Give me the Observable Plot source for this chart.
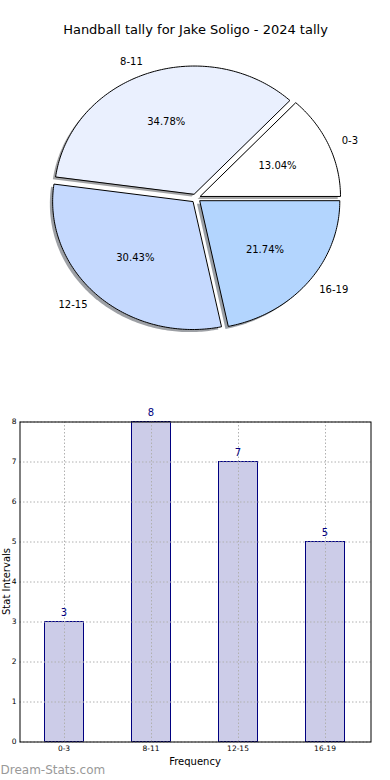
<!DOCTYPE html>
<html><head><meta charset="utf-8">
<script src="https://cdn.jsdelivr.net/npm/d3@7"></script>
<script src="https://cdn.jsdelivr.net/npm/@observablehq/plot@0.6"></script>
<style>body{margin:0;background:#fff;} #chart{width:390px;height:780px;} svg{display:block}</style>
</head><body><div id="chart"></div>
<script>
const title = "Handball tally for Jake Soligo - 2024 tally";
const categories = ["0-3","8-11","12-15","16-19"];
const counts = [3,8,7,5];
const yTicks = [0,1,2,3,4,5,6,7,8];
const xLabel = "Frequency";
const yLabel = "Stat Intervals";
const watermark = "Dream-Stats.com";

const pieColors = ["#ffffff","#eaf0fe","#c5d9fe","#b3d5fe"];
const font = "DejaVu Sans";
const explode = 0.035;
const total = d3.sum(counts);
const ends = Array.from(d3.cumsum(counts));
const slices = categories.map((c,i)=>{
  const a0 = 2*Math.PI*(ends[i]-counts[i])/total;
  const a1 = 2*Math.PI*ends[i]/total;
  const mid = (a0+a1)/2;
  const ex = explode*Math.cos(mid), ey = explode*Math.sin(mid);
  const n = Math.max(2, Math.ceil((a1-a0)/(Math.PI/180)));
  const pts = [{x:ex,y:ey}];
  for (let k=0;k<=n;k++){ const a=a0+(a1-a0)*k/n; pts.push({x:ex+Math.cos(a), y:ey+Math.sin(a)}); }
  return {cat:c, value:counts[i], color:pieColors[i], pts,
    pct:(100*counts[i]/total).toFixed(2)+"%",
    lx:ex+1.1*Math.cos(mid), ly:ey+1.1*Math.sin(mid),
    px:ex+0.6*Math.cos(mid), py:ey+0.6*Math.sin(mid)};
});
const shade = c => { const r = d3.rgb(c); return d3.rgb(r.r*0.3, r.g*0.3, r.b*0.3).formatHex(); };

const pieMarks = [];
for (const s of slices) pieMarks.push(Plot.line(s.pts, {x:d=>d.x-0.02, y:d=>d.y-0.02, fill:shade(s.color), fillOpacity:0.5, stroke:"none", curve:"linear-closed"}));
for (const s of slices) pieMarks.push(Plot.line(s.pts, {x:"x", y:"y", fill:s.color, stroke:"black", strokeWidth:1, curve:"linear-closed"}));
pieMarks.push(
  Plot.text(slices, {x:"px", y:"py", text:"pct", fontSize:10, fill:"black"}),
  Plot.text(slices.filter(s=>s.lx>0), {x:"lx", y:"ly", text:"cat", textAnchor:"start", fontSize:10, fill:"black"}),
  Plot.text(slices.filter(s=>s.lx<=0), {x:"lx", y:"ly", text:"cat", textAnchor:"end", fontSize:10, fill:"black"}),
  Plot.text([title], {frameAnchor:"top", dy:29.5, text:d=>d, textAnchor:"middle", lineAnchor:"middle", fontSize:13, fill:"black"})
);

const pie = Plot.plot({
  width:390, height:390, margin:0,
  style:{fontFamily:font, background:"white"},
  x:{domain:[-1.3964,1.3893], axis:null},
  y:{domain:[-1.502,1.545], axis:null},
  marks: pieMarks
});

const barData = categories.map((c,i)=>({cat:c, value:counts[i]}));
const gridStyle = {stroke:"#b0b0b0", strokeOpacity:1, strokeWidth:1, strokeDasharray:"1.5,2", dx:0.5, dy:0.5};
const bar = Plot.plot({
  width:390, height:390, marginTop:31, marginBottom:39, marginLeft:19, marginRight:20,
  style:{fontFamily:font, fontSize:"7.5px", color:"black", background:"white"},
  x:{domain:categories, paddingInner:0.55, paddingOuter:0.275, round:true},
  y:{domain:[0,8]},
  marks:[
    Plot.barY(barData, {x:"cat", y:"value", fill:"#cccce8", stroke:"#000080", strokeWidth:1, dx:0.5, dy:0.5}),
    Plot.gridX(categories, gridStyle),
    Plot.gridY(yTicks, gridStyle),
    Plot.frame({stroke:"black", strokeWidth:1, dx:0.5, dy:0.5}),
    Plot.axisX({tickSize:0, tickPadding:4, label:null, fontSize:7.5}),
    Plot.axisY({ticks:yTicks, tickSize:0, tickPadding:3, label:null, fontSize:7.5}),
    Plot.text(barData, {x:"cat", y:"value", text:d=>String(d.value), dy:-9, fill:"#000080", fontSize:10}),
    Plot.text([xLabel], {frameAnchor:"bottom", dy:20, text:d=>d, textAnchor:"middle", lineAnchor:"middle", fontSize:10, fill:"black"}),
    Plot.text([yLabel], {frameAnchor:"left", rotate:-90, dx:-13, text:d=>d, textAnchor:"middle", lineAnchor:"middle", fontSize:10, fill:"black"}),
    Plot.text([watermark], {frameAnchor:"bottom-left", dx:-19, dy:29, textAnchor:"start", lineAnchor:"middle", text:d=>d, fill:"#999999", fontSize:12})
  ]
});

const root = document.getElementById("chart");
root.append(pie, bar);
</script>
</body></html>
